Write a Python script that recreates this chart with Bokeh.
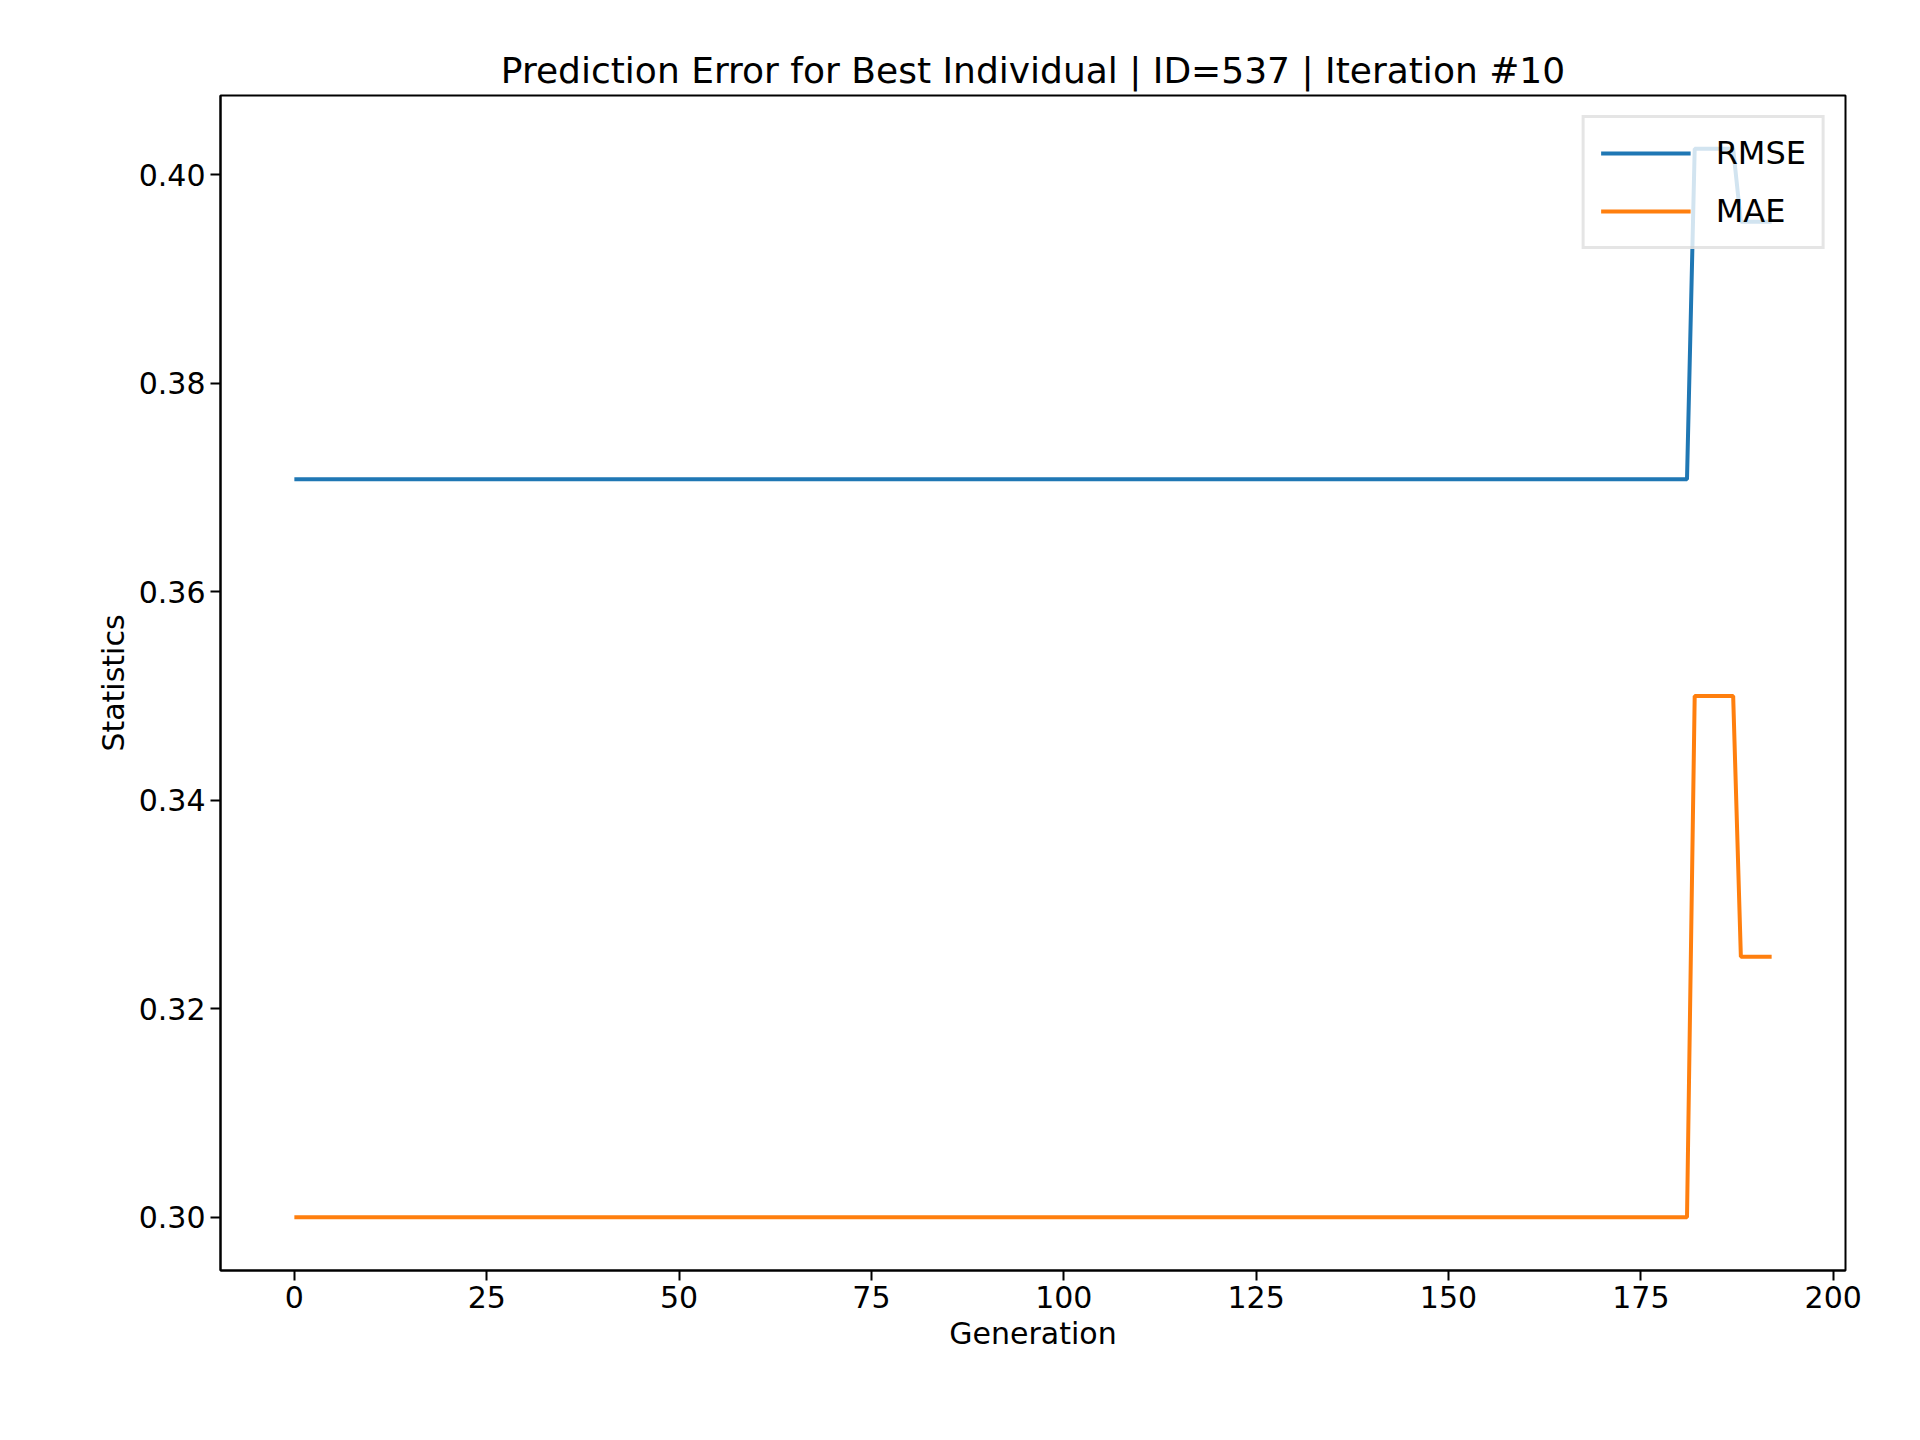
from bokeh.plotting import figure
from bokeh.models import Range1d, FixedTicker, Legend, CustomJSTickFormatter
from bokeh.embed import file_html
from bokeh.resources import INLINE

# breakpoints of the step-like series (generation, value)
generations = [0, 181, 182, 187, 188, 192]
rmse = [0.3708, 0.3708, 0.4025, 0.4025, 0.3955, 0.3955]
mae = [0.300, 0.300, 0.350, 0.350, 0.325, 0.325]

x_ticks = [0, 25, 50, 75, 100, 125, 150, 175, 200]
y_ticks = [0.30, 0.32, 0.34, 0.36, 0.38, 0.40]

p = figure(width=1900, height=1420, output_backend="svg", toolbar_location=None,
           title="Prediction Error for Best Individual | ID=537 | Iteration #10",
           x_range=Range1d(-9.6, 201.6), y_range=Range1d(0.2949, 0.4076),
           min_border_left=220, min_border_right=55, min_border_top=95, min_border_bottom=150)

r1 = p.line(generations, rmse, line_color="#1f77b4", line_width=4)
r2 = p.line(generations, mae, line_color="#ff7f0e", line_width=4)

legend = Legend(items=[("RMSE", [r1]), ("MAE", [r2])], location="top_right")
legend.label_text_font = "DejaVu Sans"
legend.label_text_font_size = "32px"
legend.label_text_color = "black"
legend.glyph_width = 90
legend.label_standoff = 25
legend.border_line_color = "#cccccc"
legend.border_line_width = 3
legend.background_fill_alpha = 0.8
legend.margin = 20
legend.padding = 16
legend.spacing = 20
p.add_layout(legend)

p.title.text_font = "DejaVu Sans"
p.title.text_font_size = "36px"
p.title.text_font_style = "normal"
p.title.text_color = "black"
p.title.align = "center"

p.xaxis.axis_label = "Generation"
p.yaxis.axis_label = "Statistics"
p.xaxis.ticker = FixedTicker(ticks=x_ticks)
p.yaxis.ticker = FixedTicker(ticks=y_ticks)
p.yaxis.formatter = CustomJSTickFormatter(code="return tick.toFixed(2);")
for ax in (p.xaxis, p.yaxis):
    ax.axis_label_text_font = "DejaVu Sans"
    ax.axis_label_text_font_size = "30px"
    ax.axis_label_text_font_style = "normal"
    ax.axis_label_text_color = "black"
    ax.major_label_text_font = "DejaVu Sans"
    ax.major_label_text_font_size = "30px"
    ax.major_label_text_color = "black"
    ax.major_tick_out = 10
    ax.major_tick_in = 0
    ax.minor_tick_out = 0
    ax.minor_tick_in = 0
    ax.axis_line_width = 2
    ax.major_tick_line_width = 2
p.grid.grid_line_color = None
p.outline_line_color = "black"
p.outline_line_width = 2

open("out.html", "w").write(file_html(p, INLINE))
